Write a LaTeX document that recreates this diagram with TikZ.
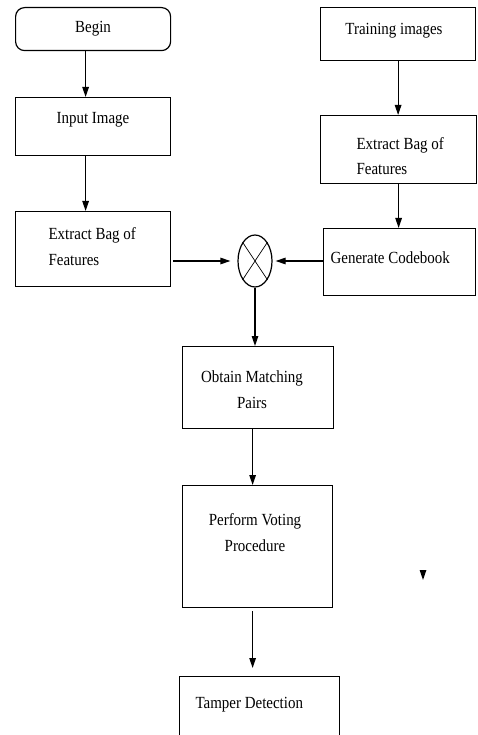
\documentclass[tikz,border=0pt]{standalone}
\usepackage{fontspec}
\setmainfont[FakeStretch=0.88]{Liberation Serif}
\usetikzlibrary{arrows.meta,shapes.geometric}
\begin{document}
\begin{tikzpicture}[x=1pt, y=-1pt, >={Triangle[length=10pt,width=6.5pt]}, line width=1.2pt,
		box/.style={draw, rectangle, anchor=north west, inner sep=0pt},
		txt/.style={inner sep=0pt, font=\fontsize{17}{26}\selectfont}]
			\useasboundingbox (0,0) rectangle (477,735);
			\clip (0,0) rectangle (477,735);
			% left column
			\node[box, rounded corners=9pt, minimum width=155pt, minimum height=43pt, font=\fontsize{17}{26}\selectfont] (begin) at (15,7) {Begin};
			\node[box, minimum width=155pt, minimum height=58pt] (input) at (15,97) {};
			\node[box, minimum width=155pt, minimum height=75pt] (bagl) at (15,211) {};
			% right column
			\node[box, minimum width=155pt, minimum height=53pt] (train) at (320,7) {};
			\node[box, minimum width=156pt, minimum height=68pt] (bagr) at (320,115) {};
			\node[box, minimum width=152pt, minimum height=67pt] (gen) at (323,228) {};
			% matching
			\node[draw, ellipse, inner sep=0pt, minimum width=34pt, minimum height=52pt] (mix) at (255,261) {};
			\draw[line width=0.7pt] (mix.north west) -- (mix.south east) (mix.north east) -- (mix.south west);
			\node[box, minimum width=151pt, minimum height=82pt] (obtain) at (182,346) {};
			\node[box, minimum width=150pt, minimum height=122pt] (perform) at (182,485) {};
			\node[box, minimum width=160pt, minimum height=90pt] (tamper) at (179,676) {};
			% texts
			\node[txt, anchor=base] (inputtxt) at (93,124) {Input Image};
			\node[txt, anchor=north west, align=left] (bagltxt) at (48,226.5) {Extract Bag of\\Features};
			\node[txt, anchor=base] (traintxt) at (394,35) {Training images};
			\node[txt, anchor=north west, align=left, font=\fontsize{17}{25}\selectfont] (bagrtxt) at (356,136.5) {Extract Bag of\\Features};
			\node[txt, anchor=base west] (gentxt) at (330,263) {Generate Codebook};
			\node[txt, anchor=north, align=center] (obtaintxt) at (252,370.5) {Obtain Matching\\Pairs};
			\node[txt, anchor=north, align=center] (performtxt) at (255,512.5) {Perform Voting\\Procedure};
			\node[txt, anchor=base west] (tampertxt) at (195,708) {Tamper Detection};
			% arrows
			\draw[->] ([xshift=-7.5pt]begin.south) -- ([xshift=-7.5pt]input.north);
			\draw[->] ([xshift=-7.5pt]input.south) -- ([xshift=-7.5pt]bagl.north);
			\draw[->, shorten <=2pt, shorten >=7pt] (bagl.east |- mix.west) -- (mix.west);
			\draw[->, shorten >=3pt] (gen.west |- mix.east) -- (mix.east);
			\draw[->] (train.south) -- (train.south |- bagr.north);
			\draw[->] (bagr.south) -- (bagr.south |- gen.north);
			\draw[->] (mix.south) -- (mix.south |- obtain.north);
			\draw[->] ([xshift=-5.5pt]obtain.south) -- ([xshift=-5.5pt]obtain.south |- perform.north);
			\draw[->, shorten <=3pt, shorten >=8pt] ([xshift=-5pt]perform.south) -- ([xshift=-5pt]perform.south |- tamper.north);
			% stray tip
			\coordinate (tipa) at (423,570);
			\coordinate (tipb) at (423,580);
			\draw[->] (tipa) -- (tipb);
		\end{tikzpicture}
\end{document}
